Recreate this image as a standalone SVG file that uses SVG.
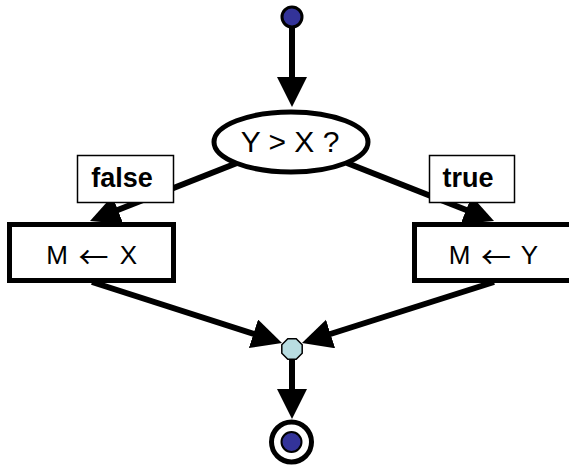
<svg xmlns="http://www.w3.org/2000/svg" width="569" height="469" viewBox="0 0 569 469">
  <style>
    .edge { stroke: #000; stroke-width: 6; fill: none; }
    .box { fill: #fff; stroke: #000; stroke-width: 5; }
    .tag { fill: #fff; stroke: #000; stroke-width: 1.5; }
    .txt { font-family: "Liberation Sans", Arial, sans-serif; font-size: 26px; fill: #000; text-anchor: middle; }
    .cond { font-size: 30px; }
    .arr { font-family: "Noto Sans CJK JP", "DejaVu Sans", sans-serif; font-size: 30px; }
    .lbl { font-family: "Liberation Sans", Arial, sans-serif; font-size: 27px; font-weight: bold; fill: #000; text-anchor: middle; }
  </style>
  <defs>
    <!-- filled arrowhead; tip sits 10px beyond the line end -->
    <marker id="arrow" markerUnits="userSpaceOnUse" markerWidth="32" markerHeight="32" refX="20" refY="15" orient="auto">
      <path d="M0,0 L30,15 L0,30 Z" fill="#000"/>
    </marker>
  </defs>

  <rect width="569" height="469" fill="#fff"/>

  <g id="connectors">
    <line class="edge" x1="292" y1="27" x2="292" y2="97" marker-end="url(#arrow)"/>
    <line class="edge" x1="237" y1="163" x2="99.3" y2="217.3" marker-end="url(#arrow)"/>
    <line class="edge" x1="347" y1="163" x2="484.7" y2="217.3" marker-end="url(#arrow)"/>
    <line class="edge" x1="92" y1="282" x2="272.5" y2="339.9" marker-end="url(#arrow)"/>
    <line class="edge" x1="494" y1="282" x2="311.5" y2="340" marker-end="url(#arrow)"/>
    <line class="edge" x1="292" y1="358" x2="292" y2="409" marker-end="url(#arrow)"/>
  </g>

  <g id="start">
    <circle cx="292" cy="17" r="10" fill="#333399" stroke="#000" stroke-width="3"/>
  </g>

  <g id="decision">
    <ellipse cx="291" cy="142" rx="77" ry="30" fill="#fff" stroke="#000" stroke-width="5"/>
    <text class="txt cond" x="290" y="152">Y &gt; X ?</text>
  </g>

  <g id="label-false">
    <rect class="tag" x="77.5" y="155.5" width="96" height="47"/>
    <text class="lbl" x="122" y="187">false</text>
  </g>

  <g id="label-true">
    <rect class="tag" x="429.5" y="155.5" width="85" height="47"/>
    <text class="lbl" x="468" y="187">true</text>
  </g>

  <g id="assign-x">
    <rect class="box" x="9.5" y="224.5" width="164" height="56"/>
    <text class="txt"><tspan x="57" y="264">M</tspan><tspan class="arr" x="93.5" y="268">←</tspan><tspan x="128.5" y="264">X</tspan></text>
  </g>

  <g id="assign-y">
    <rect class="box" x="414.5" y="224.5" width="170" height="56"/>
    <text class="txt"><tspan x="459.5" y="264">M</tspan><tspan class="arr" x="496" y="268">←</tspan><tspan x="529.5" y="264">Y</tspan></text>
  </g>

  <g id="merge">
    <polygon points="287.8,338.8 296.2,338.8 302.2,344.8 302.2,353.2 296.2,359.2 287.8,359.2 281.8,353.2 281.8,344.8" fill="#b8dde1" stroke="#000" stroke-width="1.5"/>
  </g>

  <g id="end">
    <circle cx="291.5" cy="442" r="20" fill="#fff" stroke="#000" stroke-width="5"/>
    <circle cx="291.5" cy="442" r="10" fill="#333399" stroke="#000" stroke-width="2"/>
  </g>
</svg>
